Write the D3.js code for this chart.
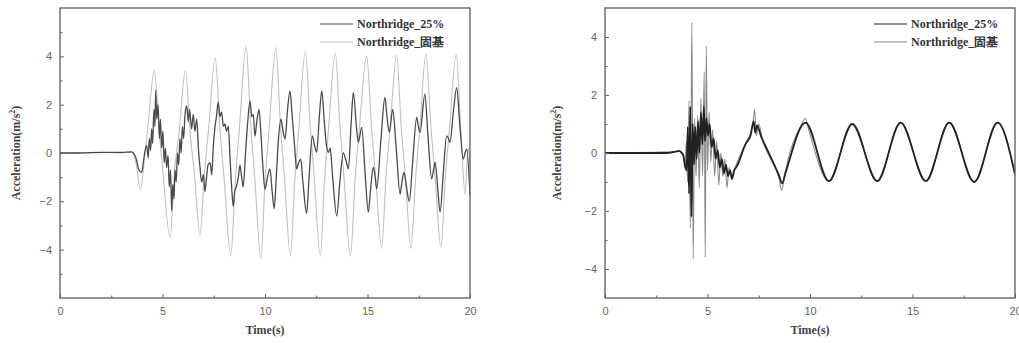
<!DOCTYPE html>
<html>
<head>
<meta charset="utf-8">
<script src="https://cdn.jsdelivr.net/npm/d3@7"></script>
<style>
  body { margin: 0; background: #fff; }
  svg { display: block; }
</style>
</head>
<body>
<svg id="chart" width="1019" height="343"></svg>
<script>
// series names
const seriesNames = ["Northridge_25%", "Northridge_固基"];

// x ticks (both panels)
const xTicks = [0, 5, 10, 15, 20];
const xMinorTicks = [2.5, 7.5, 12.5, 17.5];

// left panel
const leftYTicks = [-4, -2, 0, 2, 4];
const leftYMinor = [-5, -3, -1, 1, 3, 5];

const left25 = [
  [0, 0], [1, 0], [2, 0.03], [3, 0.02], [3.5, 0.05], [3.7, -0.2], [3.85, -0.7], [3.98, -0.8],
  [4.08, -0.3], [4.15, 0.1], [4.23, 0.3], [4.3, -0.2], [4.36, 0.6], [4.42, 0.1], [4.47, 1.0],
  [4.52, 0.4], [4.58, 1.8], [4.63, 1.1], [4.67, 2.6], [4.72, 1.4], [4.78, 2.0], [4.85, 0.6],
  [4.9, 1.4], [4.96, 0.2], [5.02, 0.9], [5.08, -0.4], [5.14, 0.2], [5.2, -0.6], [5.27, -0.1],
  [5.33, -1.4], [5.39, -0.7], [5.45, -2.4], [5.5, -1.3], [5.56, -1.9], [5.61, -0.7], [5.67, -1.2],
  [5.73, 0.0], [5.79, -0.5], [5.85, 0.6], [5.91, 0.0], [5.97, 1.1], [6.03, 0.6], [6.1, 1.6],
  [6.18, 1.95], [6.26, 1.3], [6.32, 1.8], [6.42, 1.0], [6.5, 1.6], [6.58, 0.9], [6.67, 1.4],
  [6.75, 0.2], [6.83, -0.6], [6.91, -1.2], [7.0, -0.9], [7.07, -1.6], [7.15, -1.0], [7.22, -0.5],
  [7.32, -0.4], [7.4, -0.9], [7.48, 0.3], [7.55, 1.0], [7.63, 1.5], [7.72, 2.1], [7.8, 1.5],
  [7.88, 1.7], [7.97, 1.1], [8.05, 1.2], [8.12, 0.9], [8.21, 1.1], [8.3, -0.3], [8.38, -1.5],
  [8.45, -2.2], [8.52, -1.6], [8.6, -1.4], [8.7, -1.0], [8.78, -0.5], [8.86, -1.0], [8.94, -1.4],
  [9.05, 0.0], [9.15, 1.2], [9.27, 2.16], [9.35, 1.5], [9.43, 1.6], [9.51, 0.7], [9.6, 1.3],
  [9.71, 1.8], [9.8, 0.8], [9.9, -0.6], [10.0, -1.5], [10.1, -1.1], [10.24, -0.66], [10.35, -1.6],
  [10.45, -2.3], [10.55, -1.0], [10.65, 0.5], [10.78, 1.4], [10.88, 0.9], [10.98, 0.58], [11.1, 1.8],
  [11.22, 2.57], [11.32, 1.6], [11.45, 0.2], [11.54, -0.66], [11.64, -0.4], [11.74, -0.25],
  [11.85, -1.2], [12.03, -2.5], [12.15, -1.0], [12.31, 0.71], [12.42, 0.3], [12.52, 0.03],
  [12.65, 1.5], [12.77, 2.57], [12.9, 1.2], [13.0, 0.3], [13.09, 0.03], [13.18, 0.2], [13.3, -1.0],
  [13.5, -2.6], [13.65, -1.2], [13.82, 0.0], [13.95, -0.3], [14.07, -0.66], [14.2, 1.2], [14.31, 2.5],
  [14.45, 1.2], [14.55, 0.44], [14.72, 1.06], [14.88, -0.8], [15.04, -2.45], [15.15, -1.5],
  [15.28, -0.59], [15.36, -0.9], [15.45, -1.48], [15.65, 0.5], [15.85, 2.3], [15.95, 1.5],
  [16.06, 0.85], [16.23, 1.8], [16.4, 0.2], [16.59, -1.7], [16.68, -1.2], [16.78, -0.8], [16.9, -1.4],
  [17.04, -2.0], [17.2, -0.4], [17.4, 1.47], [17.48, 1.1], [17.56, 0.85], [17.8, 2.43], [17.95, 0.7],
  [18.13, -1.07], [18.22, -0.7], [18.3, -0.38], [18.42, -1.4], [18.54, -2.45], [18.7, -0.8],
  [18.86, 0.71], [18.95, 0.6], [19.02, 0.44], [19.2, 1.8], [19.35, 2.7], [19.5, 1.2], [19.67, -0.25],
  [19.76, 0.0], [19.84, 0.16], [20, -1.76]
];

const leftFixed = [
  [0, 0], [3.5, 0.02], [3.7, -0.4], [3.92, -1.5], [4.15, 0.0], [4.3, 1.2], [4.6, 3.4], [4.85, 0.8],
  [5.0, -0.6], [5.37, -3.5], [5.6, -0.6], [5.8, 0.8], [6.12, 3.4], [6.35, 0.8], [6.55, -0.8],
  [6.83, -3.4], [7.05, -0.8], [7.25, 1.0], [7.57, 3.95], [7.8, 1.0], [8.0, -1.0], [8.33, -4.25],
  [8.55, -1.2], [8.75, 1.0], [9.08, 4.4], [9.3, 1.2], [9.5, -1.0], [9.8, -4.38], [10.0, -1.2],
  [10.2, 1.0], [10.53, 4.36], [10.75, 1.2], [10.95, -1.0], [11.24, -4.25], [11.45, -1.2],
  [11.65, 1.0], [11.97, 4.22], [12.2, 1.2], [12.4, -1.0], [12.7, -4.25], [12.9, -1.2], [13.1, 1.0],
  [13.43, 4.15], [13.65, 1.2], [13.85, -1.0], [14.17, -4.25], [14.4, -1.0], [14.6, 1.0], [14.96, 4.0],
  [15.2, 1.0], [15.4, -1.0], [15.69, -3.95], [15.9, -1.0], [16.1, 1.0], [16.42, 4.05], [16.65, 1.0],
  [16.85, -1.0], [17.12, -3.95], [17.35, -1.0], [17.55, 1.0], [17.85, 4.1], [18.1, 1.0], [18.3, -1.0],
  [18.58, -3.9], [18.8, -1.0], [19.0, 1.0], [19.33, 4.08], [19.55, 1.0], [19.76, -1.7], [19.9, 0.2],
  [20, -0.5]
];

// right panel
const rightYTicks = [-4, -2, 0, 2, 4];
const rightYMinor = [-3, -1, 1, 3];

const right25 = [
  [0, 0], [3.0, 0.0], [3.45, 0.05], [3.6, 0.07], [3.75, 0.0], [3.83, -0.1], [3.91, -0.45],
  [3.98, -0.6], [4.04, 0.9], [4.1, -1.4], [4.16, 1.6], [4.22, -2.2], [4.28, 1.0], [4.34, -0.4],
  [4.4, 0.9], [4.47, -0.2], [4.54, 1.1], [4.6, 0.0], [4.68, 1.4], [4.75, 0.3], [4.82, 1.6],
  [4.88, 0.4], [4.95, 1.2], [5.02, 0.6], [5.1, 1.0], [5.2, 0.2], [5.3, 0.5], [5.4, -0.2], [5.5, 0.1],
  [5.6, -0.5], [5.7, -0.2], [5.8, -0.7], [5.9, -0.4], [6.0, -0.8], [6.1, -0.6], [6.19, -0.9],
  [6.3, -0.6], [6.44, -0.45], [6.85, 0.3], [7.1, 0.6], [7.25, 1.1], [7.33, 0.7], [7.42, 0.95],
  [7.6, 0.6], [7.99, 0.0], [8.5, -0.8], [8.64, -1.05], [8.8, -0.7], [9.78, 1.05], [10.92, -0.97],
  [12.06, 1.0], [13.28, -0.97], [14.42, 1.05], [15.65, -0.97], [16.79, 1.05], [18.01, -1.0],
  [19.15, 1.05], [20, -0.74]
];

const rightFixed = [
  [0, 0], [3.45, 0.05], [3.6, 0.07], [3.8, -0.1], [3.9, -0.5], [3.97, 0.4], [4.03, -1.0],
  [4.1, 1.8], [4.16, -2.6], [4.24, 4.5], [4.3, -3.65], [4.37, 1.2], [4.44, -0.8], [4.52, 1.3],
  [4.6, -1.2], [4.68, 1.9], [4.76, -0.8], [4.84, 2.8], [4.89, -3.6], [4.94, 3.7], [5.0, -0.6],
  [5.08, 1.4], [5.16, -0.3], [5.25, 0.8], [5.35, -0.8], [5.45, 0.4], [5.55, -1.1], [5.65, 0.0],
  [5.75, -0.8], [5.85, -0.2], [5.95, -1.2], [6.05, -0.5], [6.19, -0.8], [6.4, -0.4], [6.9, 0.4],
  [7.2, 0.9], [7.3, 1.5], [7.38, 0.6], [7.5, 1.0], [7.7, 0.4], [8.0, -0.1], [8.5, -0.9],
  [8.62, -1.3], [8.75, -0.8], [9.6, 1.0], [9.78, 1.2], [9.9, 0.9], [10.92, -0.97], [12.06, 1.0],
  [13.28, -0.97], [14.42, 1.05], [15.65, -0.97], [16.79, 1.05], [18.01, -1.0], [19.15, 1.05],
  [20, -0.74]
];

const svg = d3.select("#chart");

const panels = [
  {
    left: 60, right: 470, top: 8, bottom: 298, yDomain: [-6, 6],
    yTicks: leftYTicks, yMinor: leftYMinor, series: [left25, leftFixed],
    colors: ["#4a4a4a", "#c0c0c0"], widths: [1.3, 1.1], ylabelX: 17, legendX: 320, legendY: 24
  },
  {
    left: 605, right: 1015, top: 8, bottom: 298, yDomain: [-5, 5],
    yTicks: rightYTicks, yMinor: rightYMinor, series: [right25, rightFixed],
    colors: ["#222", "#8a8a8a"], widths: [1.8, 1.1], ylabelX: 558, legendX: 874, legendY: 24
  }
];

panels.forEach(p => {
  const x = d3.scaleLinear().domain([0, 20]).range([p.left, p.right]);
  const y = d3.scaleLinear().domain(p.yDomain).range([p.bottom, p.top]);
  const g = svg.append("g");

  const line = d3.line()
    .x(d => x(d[0]))
    .y(d => y(d[1]))
    .curve(d3.curveMonotoneX);

  const clipId = "clip" + p.left;
  g.append("clipPath").attr("id", clipId)
    .append("rect")
    .attr("x", p.left).attr("y", p.top)
    .attr("width", p.right - p.left).attr("height", p.bottom - p.top);

  // lighter series first, darker on top
  [1, 0].forEach(i => {
    g.append("path")
      .datum(p.series[i])
      .attr("clip-path", `url(#${clipId})`)
      .attr("d", line)
      .attr("fill", "none")
      .attr("stroke", p.colors[i])
      .attr("stroke-width", p.widths[i]);
  });

  // axes
  const xAxis = g.append("g")
    .attr("transform", `translate(0,${p.bottom})`)
    .call(d3.axisBottom(x).tickValues(xTicks).tickSize(-4).tickPadding(9).tickFormat(d3.format("d")));
  g.append("g")
    .attr("transform", `translate(0,${p.bottom})`)
    .call(d3.axisBottom(x).tickValues(xMinorTicks).tickSize(-2.5).tickFormat(""))
    .select(".domain").remove();

  const yAxis = g.append("g")
    .attr("transform", `translate(${p.left},0)`)
    .call(d3.axisLeft(y).tickValues(p.yTicks).tickSize(-4).tickPadding(8).tickFormat(d3.format("d")));
  g.append("g")
    .attr("transform", `translate(${p.left},0)`)
    .call(d3.axisLeft(y).tickValues(p.yMinor).tickSize(-2.5).tickFormat(""))
    .select(".domain").remove();

  g.selectAll(".tick line").attr("stroke", "#666");
  [xAxis, yAxis].forEach(a => a.select(".domain").remove());
  g.selectAll(".tick text")
    .attr("fill", "#666")
    .style("font-family", "Arial, 'Liberation Sans', sans-serif")
    .style("font-size", "11px");

  // frame
  g.append("rect")
    .attr("x", p.left).attr("y", p.top)
    .attr("width", p.right - p.left).attr("height", p.bottom - p.top)
    .attr("fill", "none")
    .attr("stroke", "#666")
    .attr("stroke-width", 1.4);

  const titleFont = "'Times New Roman', 'Liberation Serif', serif";

  // x label
  g.append("text")
    .attr("x", (p.left + p.right) / 2)
    .attr("y", 334)
    .attr("text-anchor", "middle")
    .style("font-family", titleFont)
    .style("font-weight", "bold")
    .style("font-size", "12px")
    .attr("fill", "#444")
    .text("Time(s)");

  // y label
  const yl = g.append("text")
    .attr("transform", `translate(${p.ylabelX},${(p.top + p.bottom) / 2}) rotate(-90)`)
    .attr("text-anchor", "middle")
    .attr("dominant-baseline", "middle")
    .style("font-family", titleFont)
    .style("font-weight", "bold")
    .style("font-size", "12px")
    .attr("fill", "#444");
  yl.append("tspan").text("Acceleration(m/s");
  yl.append("tspan").attr("dy", -4).style("font-size", "8px").text("2");
  yl.append("tspan").attr("dy", 4).text(")");

  // legend
  seriesNames.forEach((name, i) => {
    const ly = p.legendY + i * 18;
    g.append("line")
      .attr("x1", p.legendX).attr("x2", p.legendX + 33)
      .attr("y1", ly).attr("y2", ly)
      .attr("stroke", p.colors[i])
      .attr("stroke-width", 1.1);
    g.append("text")
      .attr("x", p.legendX + 37)
      .attr("y", ly + 4)
      .style("font-family", titleFont)
      .style("font-weight", "bold")
      .style("font-size", "12px")
      .attr("fill", "#333")
      .text(name);
  });
});
</script>
</body>
</html>
